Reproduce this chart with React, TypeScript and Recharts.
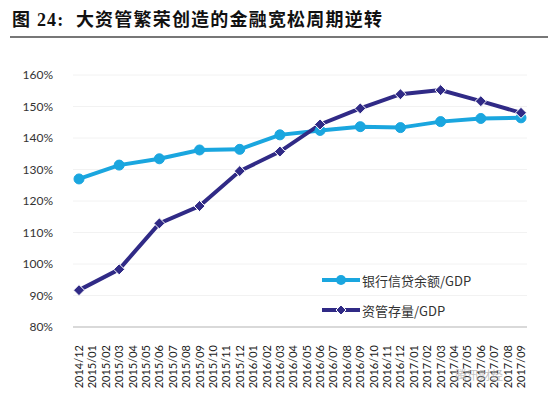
import React from "react";
import { LineChart, Line, XAxis, YAxis, CartesianGrid } from "recharts";

const months = [
  "2014/12","2015/01","2015/02","2015/03","2015/04","2015/05","2015/06","2015/07","2015/08","2015/09","2015/10","2015/11","2015/12",
  "2016/01","2016/02","2016/03","2016/04","2016/05","2016/06","2016/07","2016/08","2016/09","2016/10","2016/11","2016/12",
  "2017/01","2017/02","2017/03","2017/04","2017/05","2017/06","2017/07","2017/08","2017/09",
];

// quarterly observations (null in months without data)
const bankCredit: (number | null)[] = [
  127.0, null, null, 131.4, null, null, 133.4, null, null, 136.2, null, null, 136.4,
  null, null, 141.0, null, null, 142.4, null, null, 143.6, null, null, 143.3,
  null, null, 145.2, null, null, 146.2, null, null, 146.4,
];
const assetMgmt: (number | null)[] = [
  91.7, null, null, 98.3, null, null, 112.9, null, null, 118.4, null, null, 129.5,
  null, null, 135.7, null, null, 144.3, null, null, 149.4, null, null, 153.9,
  null, null, 155.2, null, null, 151.7, null, null, 148.0,
];

const yTicks = [80, 90, 100, 110, 120, 130, 140, 150, 160];

const seriesNames = ["银行信贷余额/GDP", "资管存量/GDP"];
const titleText = "图 24:  大资管繁荣创造的金融宽松周期逆转";

const data = months.map((m, i) => ({ month: m, bank: bankCredit[i], asset: assetMgmt[i] }));

const LIGHT = "#1aa6df";
const DARK = "#302a86";

const XTick = (props: any) => {
  const { x, y, payload } = props;
  return (
    <text
      x={x + 4}
      y={y + 10}
      transform={`rotate(-90, ${x + 4}, ${y + 10})`}
      textAnchor="end"
      fontSize={11}
      fontFamily="Lato, 'Open Sans', sans-serif"
      fill="#222"
    >
      {payload.value}
    </text>
  );
};

const circleDot = (props: any) => {
  const { cx, cy, value, index } = props;
  if (value == null || cy == null) return <g key={`c${index}`} />;
  return <circle key={`c${index}`} cx={cx} cy={cy} r={5} fill={LIGHT} stroke={LIGHT} strokeWidth={1} />;
};

const diamondDot = (props: any) => {
  const { cx, cy, value, index } = props;
  if (value == null || cy == null) return <g key={`d${index}`} />;
  const s = 5.5;
  return (
    <polygon
      key={`d${index}`}
      points={`${cx},${cy - s} ${cx + s},${cy} ${cx},${cy + s} ${cx - s},${cy}`}
      fill={DARK}
      stroke="#fff"
      strokeWidth={1}
    />
  );
};

const LegendBox = () => (
  <div
    style={{
      position: "absolute",
      left: 322,
      top: 265,
      fontFamily: "'Noto Sans CJK SC', sans-serif",
      fontSize: 13,
      color: "#333",
    }}
  >
    {[0, 1].map((i) => (
      <div key={i} style={{ display: "flex", alignItems: "center", height: 30 }}>
        <svg width={38} height={12} style={{ marginRight: 2 }}>
          <line x1={0} y1={6} x2={38} y2={6} stroke={i === 0 ? LIGHT : DARK} strokeWidth={4} />
          {i === 0 ? (
            <circle cx={19} cy={6} r={5} fill={LIGHT} />
          ) : (
            <polygon points="19,1 24,6 19,11 14,6" fill={DARK} stroke="#fff" strokeWidth={1} />
          )}
        </svg>
        <span>{seriesNames[i]}</span>
      </div>
    ))}
  </div>
);

export default function App() {
  return (
    <div style={{ position: "absolute", left: 0, top: 0, width: 550, height: 397, background: "#fff" }}>
      <div
        style={{
          position: "absolute",
          left: 12,
          top: 5,
          fontFamily: "'Liberation Serif', 'Noto Sans CJK SC', serif",
          fontWeight: "bold",
          fontSize: 18,
          letterSpacing: 1.2,
          color: "#111",
          whiteSpace: "pre",
        }}
      >
        {titleText}
      </div>
      <div style={{ position: "absolute", left: 10, top: 36, width: 538, height: 1.5, background: "#777" }} />
      <LineChart
        width={550}
        height={397}
        data={data}
        margin={{ top: 75, right: 23, bottom: 10, left: 0 }}
      >
        <CartesianGrid vertical={false} stroke="#f2f2f2" />
        <XAxis
          dataKey="month"
          interval={0}
          tick={<XTick />}
          tickLine={false}
          axisLine={{ stroke: "#d9d9d9", strokeWidth: 2 }}
          height={60}
          padding={{ left: 6, right: 6 }}
        />
        <YAxis
          domain={[80, 160]}
          ticks={yTicks}
          tickFormatter={(v: number) => `${v}%`}
          axisLine={false}
          tickLine={false}
          width={73}
          tickMargin={14}
          tick={{ fontSize: 12, fill: "#333", fontFamily: "Lato, 'Open Sans', sans-serif" }}
        />
        <Line
          type="linear"
          dataKey="bank"
          name={seriesNames[0]}
          stroke={LIGHT}
          strokeWidth={4}
          dot={circleDot}
          connectNulls
          isAnimationActive={false}
        />
        <Line
          type="linear"
          dataKey="asset"
          name={seriesNames[1]}
          stroke={DARK}
          strokeWidth={4}
          dot={diamondDot}
          connectNulls
          isAnimationActive={false}
        />
      </LineChart>
      <LegendBox />
      <div
        style={{
          position: "absolute",
          left: 455,
          top: 366,
          fontFamily: "'Noto Sans CJK SC', sans-serif",
          fontSize: 12,
          color: "rgba(180,180,180,0.8)",
        }}
      >
        腾讯财经
      </div>
    </div>
  );
}
